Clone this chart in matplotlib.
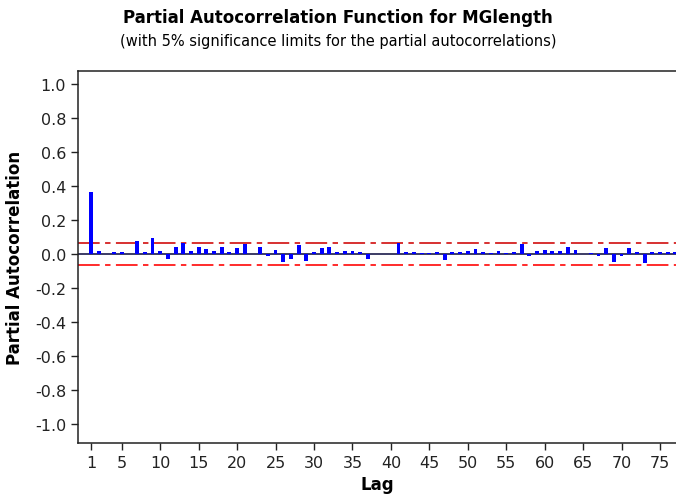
import numpy as np
import matplotlib
matplotlib.use("Agg")
import matplotlib.pyplot as plt

plt.rcParams["font.family"] = ["DejaVu Sans"]

lags = np.arange(1, 78)
pacf = [0.365, 0.02, 0.0, 0.012, 0.012, 0.0, 0.08, 0.015, 0.095, 0.02,
        -0.025, 0.045, 0.065, 0.02, 0.045, 0.03, 0.02, 0.045, 0.015, 0.035,
        0.06, 0.0, 0.045, -0.01, 0.025, -0.045, -0.03, 0.055, -0.04, 0.012,
        0.04, 0.045, 0.012, 0.02, 0.02, 0.012, -0.03, 0.0, 0.0, 0.0,
        0.065, 0.012, 0.012, 0.01, 0.01, 0.012, -0.035, 0.012, 0.015, 0.02,
        0.03, 0.012, 0.01, 0.02, 0.01, 0.012, 0.06, -0.012, 0.02, 0.025,
        0.02, 0.02, 0.045, 0.025, 0.0, 0.01, -0.01, 0.035, -0.045, -0.01,
        0.04, 0.012, -0.05, 0.015, 0.012, 0.012, 0.012]
limit = 0.064
yticks = [-1.0, -0.8, -0.6, -0.4, -0.2, 0.0, 0.2, 0.4, 0.6, 0.8, 1.0]

fig = plt.figure(figsize=(6.76, 5.02), dpi=100)
ax = fig.add_axes([0.1154, 0.1155, 0.8846, 0.7415])

ax.bar(lags, pacf, width=0.5, color="#0000ff", zorder=3)
ax.axhline(0, color="#1a1a4a", lw=1.2, zorder=2)
ax.axhline(limit, color="#d42020", lw=1.3, dashes=(12, 3, 3, 3))
ax.axhline(-limit, color="#ff1a1a", lw=1.3, dashes=(12, 3, 3, 3))

ax.set_xlim(-0.69, 77.08)
ax.set_ylim(-1.11, 1.08)
ax.set_xticks([1] + list(range(5, 80, 5)))
ax.set_yticks(yticks)
ax.set_yticklabels(["%.1f" % v for v in yticks])
ax.tick_params(labelsize=11.5, length=5, width=1, colors="#222222")
ax.spines["right"].set_visible(False)
for s in ["left", "top", "bottom"]:
    ax.spines[s].set_linewidth(1.1)
    ax.spines[s].set_color("#222222")

ax.set_xlabel("Lag", fontsize=12, fontweight="bold", labelpad=4)
ax.set_ylabel("Partial Autocorrelation", fontsize=12, fontweight="bold", labelpad=8)

fig.text(0.5, 0.965, "Partial Autocorrelation Function for MGlength",
         ha="center", va="center", fontsize=12, fontweight="bold")
fig.text(0.5, 0.918, "(with 5% significance limits for the partial autocorrelations)",
         ha="center", va="center", fontsize=10.5)

fig.savefig("out.png", dpi=100)
